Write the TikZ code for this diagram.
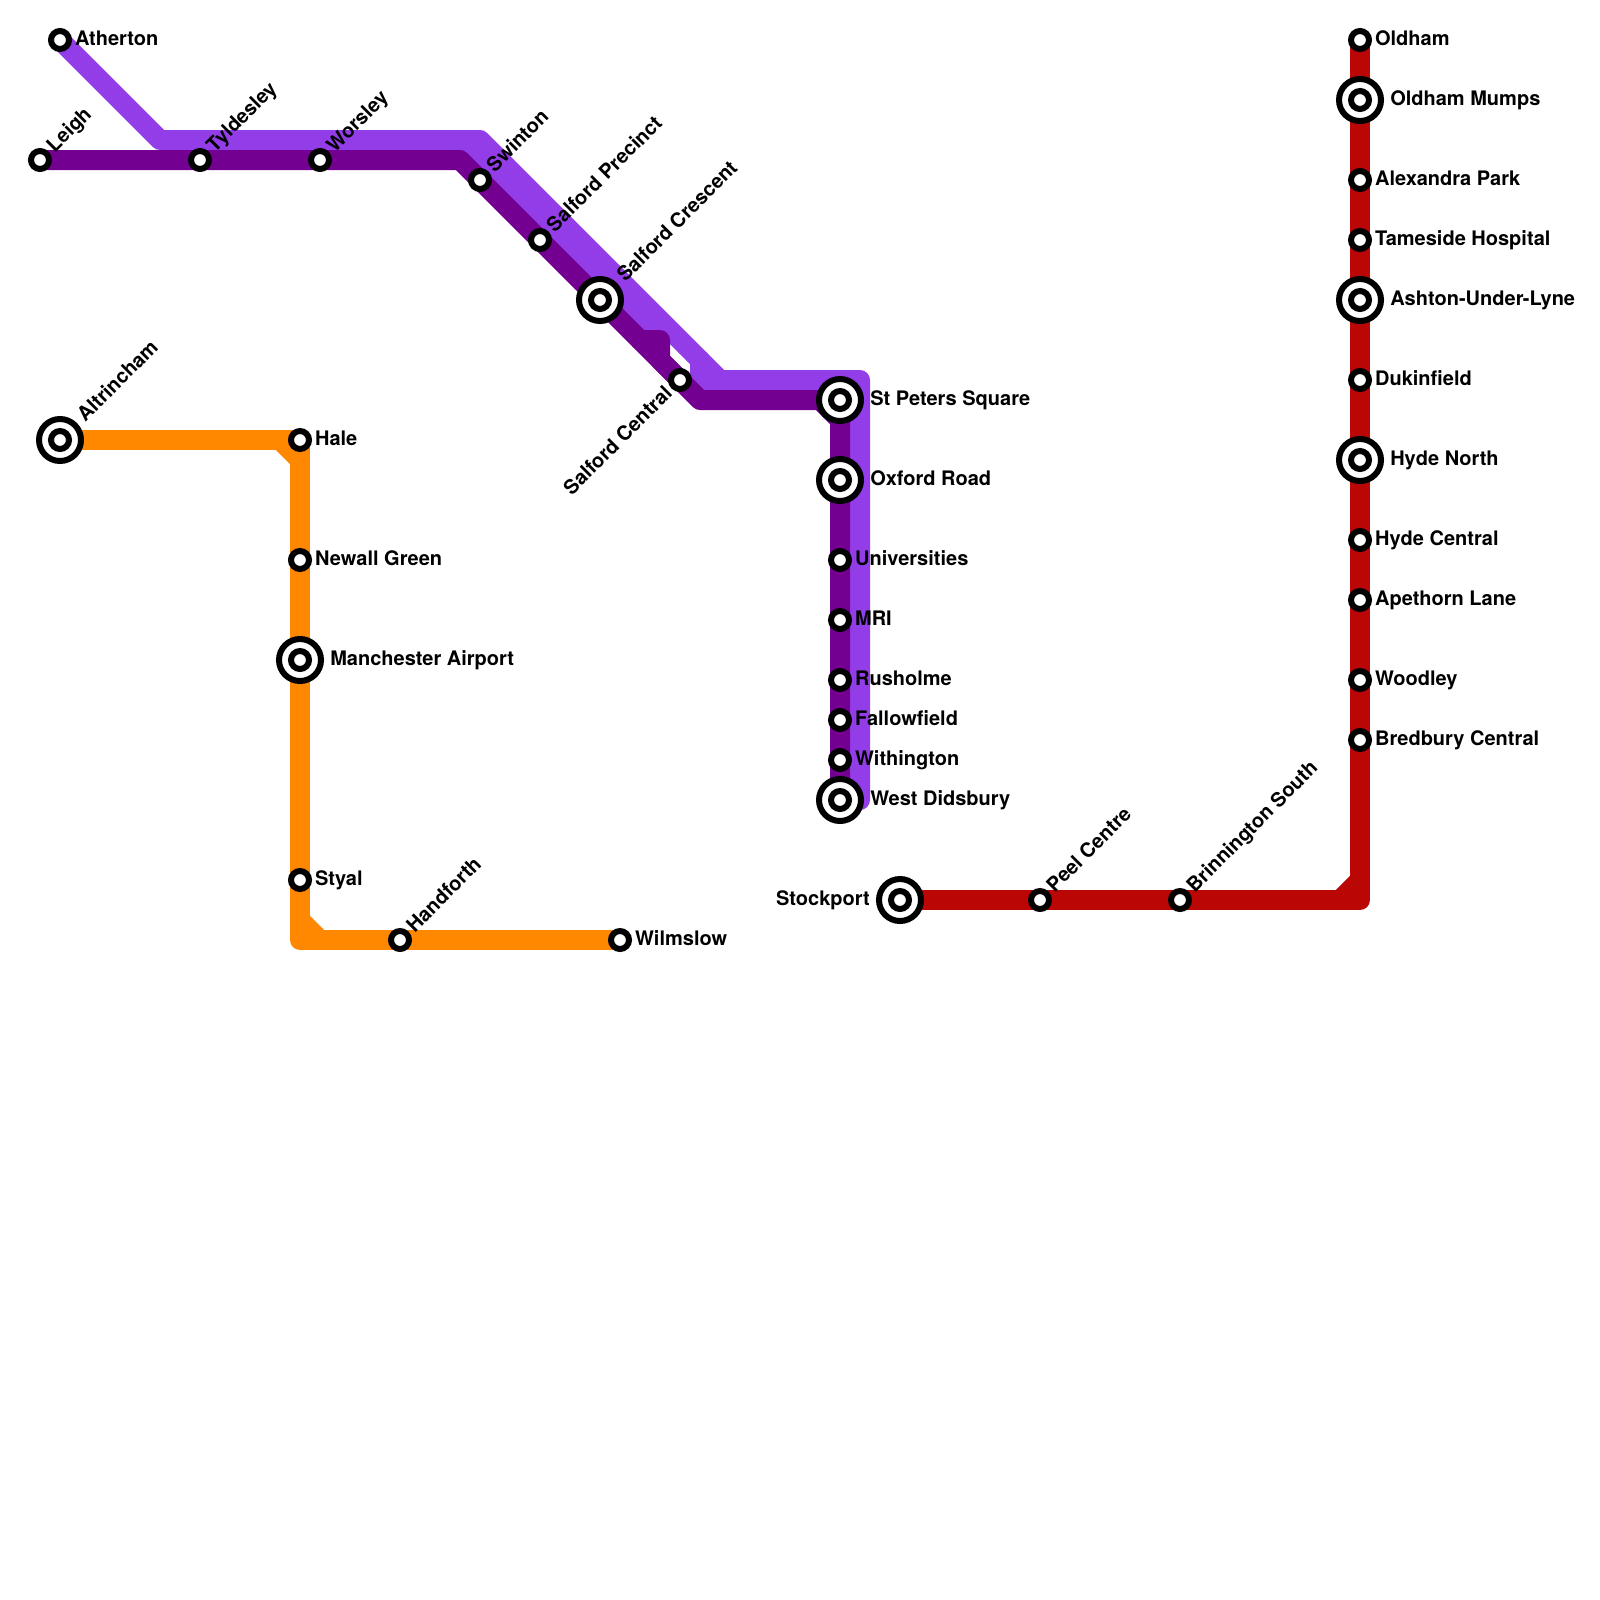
\documentclass[tikz,border=0pt]{standalone}
\usepackage{fontspec}
\setmainfont{TeX Gyre Heros}
\usetikzlibrary{backgrounds,positioning}
\definecolor{lightpurple}{HTML}{933DE8}
\definecolor{darkpurple}{HTML}{730091}
\definecolor{lineorange}{HTML}{FF8800}
\definecolor{linered}{HTML}{BB0606}
\tikzset{
    every node/.style={font=\fontsize{14.23}{16}\selectfont\bfseries,inner sep=0pt},
    metro/.style={line width=0.5cm,line join=round,line cap=round},
    stn/.style={circle,draw=black,fill=white,line width=0.15cm,minimum size=0.45cm},
    hub/.style={circle,draw=black,fill=white,line width=0.15cm,minimum size=1.05cm},
    namer/.style={anchor=mid west,xshift=0.37cm,yshift=-0.05cm},
    nameR/.style={anchor=mid west,xshift=0.75cm,yshift=-0.05cm},
    nameL/.style={anchor=mid east,xshift=-0.75cm,yshift=-0.05cm},
    namea/.style={anchor=mid west,rotate=45,xshift=0.375cm,yshift=-0.05cm},
    nameA/.style={anchor=mid west,rotate=45,xshift=0.75cm,yshift=-0.05cm},
    nameb/.style={anchor=mid east,rotate=45,xshift=-0.375cm,yshift=-0.05cm},
}

\begin{document}
\begin{tikzpicture}[x=0.5cm,y=-0.5cm]
    \useasboundingbox (0,0) rectangle (80,80);

    % stations, purple lines
    \node[stn] (atherton) at (3,2) {};
    \node[stn] (leigh) at (2,8) {};
    \node[stn] (tyldesley) at (10,8) {};
    \node[stn] (worsley) at (16,8) {};
    \node[stn] (swinton) at (24,9) {};
    \node[stn] (precinct) at (27,12) {};
    \node[hub] (crescent) at (30,15) {}; \node[stn] (crescent-in) at (crescent) {};
    \node[stn] (central) at (34,19) {};
    \node[hub] (stpeters) at (42,20) {}; \node[stn] (stpeters-in) at (stpeters) {};
    \node[hub] (oxford) at (42,24) {}; \node[stn] (oxford-in) at (oxford) {};
    \node[stn] (universities) at (42,28) {};
    \node[stn] (mri) at (42,31) {};
    \node[stn] (rusholme) at (42,34) {};
    \node[stn] (fallowfield) at (42,36) {};
    \node[stn] (withington) at (42,38) {};
    \node[hub] (didsbury) at (42,40) {}; \node[stn] (didsbury-in) at (didsbury) {};

    % stations, orange line
    \node[hub] (altrincham) at (3,22) {}; \node[stn] (altrincham-in) at (altrincham) {};
    \node[stn] (hale) at (15,22) {};
    \node[stn] (newall) at (15,28) {};
    \node[hub] (airport) at (15,33) {}; \node[stn] (airport-in) at (airport) {};
    \node[stn] (styal) at (15,44) {};
    \node[stn] (handforth) at (20,47) {};
    \node[stn] (wilmslow) at (31,47) {};

    % stations, red line
    \node[hub] (stockport) at (45,45) {}; \node[stn] (stockport-in) at (stockport) {};
    \node[stn] (peel) at (52,45) {};
    \node[stn] (brinnington) at (59,45) {};
    \node[stn] (bredbury) at (68,37) {};
    \node[stn] (woodley) at (68,34) {};
    \node[stn] (apethorn) at (68,30) {};
    \node[stn] (hydec) at (68,27) {};
    \node[hub] (hyden) at (68,23) {}; \node[stn] (hyden-in) at (hyden) {};
    \node[stn] (dukinfield) at (68,19) {};
    \node[hub] (ashton) at (68,15) {}; \node[stn] (ashton-in) at (ashton) {};
    \node[stn] (tameside) at (68,12) {};
    \node[stn] (alexandra) at (68,9) {};
    \node[hub] (mumps) at (68,5) {}; \node[stn] (mumps-in) at (mumps) {};
    \node[stn] (oldham) at (68,2) {};

    % bends
    \coordinate (p1) at (8,7);
    \coordinate (p2) at (24,7);
    \coordinate (p3) at (36,19);
    \coordinate (p4) at (43,19);
    \coordinate (p5) at (43,40);
    \coordinate (p6) at (23,7);
    \coordinate (p7) at (32.5,16.5);
    \coordinate (p8) at (35,18);
    \coordinate (p9) at (35,19);
    \coordinate (d1) at (23,8);
    \coordinate (d2) at (35,20);
    \coordinate (d3) at (41,20);
    \coordinate (d4) at (42,21);
    \coordinate (d5) at (32,17);
    \coordinate (d6) at (33,17);
    \coordinate (d7) at (33,18);
    \coordinate (o1) at (15,47);
    \coordinate (o2) at (14,22);
    \coordinate (o3) at (15,23);
    \coordinate (o4) at (15,46);
    \coordinate (o5) at (16,47);
    \coordinate (r1) at (68,45);
    \coordinate (r2) at (67,45);
    \coordinate (r3) at (68,44);

    % lines
    \begin{scope}[on background layer]
        \draw[metro,lightpurple] (atherton.center) -- (p1) -- (p2) -- (p3) -- (p4) -- (p5);
        \draw[metro,lightpurple] (p6) -- (p7);
        \draw[metro,lightpurple] (p8) -- (p9) -- (p3);
        \draw[metro,darkpurple] (leigh.center) -- (d1) -- (d2) -- (d3) -- (d4) -- (didsbury.center);
        \draw[metro,darkpurple] (d5) -- (d6) -- (d7) -- (central.center);
        \draw[metro,lineorange] (altrincham.center) -- (hale.center) -- (o1) -- (wilmslow.center);
        \draw[metro,lineorange] (o2) -- (o3);
        \draw[metro,lineorange] (o4) -- (o5);
        \draw[metro,linered] (stockport.center) -- (r1) -- (oldham.center);
        \draw[metro,linered] (r2) -- (r3);
    \end{scope}

    % names, purple lines
    \node[namer] (atherton-t) at (atherton) {Atherton};
    \node[namea] (leigh-t) at (leigh) {Leigh};
    \node[namea] (tyldesley-t) at (tyldesley) {Tyldesley};
    \node[namea] (worsley-t) at (worsley) {Worsley};
    \node[namea] (swinton-t) at (swinton) {Swinton};
    \node[namea] (precinct-t) at (precinct) {Salford Precinct};
    \node[nameA] (crescent-t) at (crescent) {Salford Crescent};
    \node[nameb] (central-t) at (central) {Salford Central};
    \node[nameR] (stpeters-t) at (stpeters) {St Peters Square};
    \node[nameR] (oxford-t) at (oxford) {Oxford Road};
    \node[namer] (universities-t) at (universities) {Universities};
    \node[namer] (mri-t) at (mri) {MRI};
    \node[namer] (rusholme-t) at (rusholme) {Rusholme};
    \node[namer] (fallowfield-t) at (fallowfield) {Fallowfield};
    \node[namer] (withington-t) at (withington) {Withington};
    \node[nameR] (didsbury-t) at (didsbury) {West Didsbury};

    % names, orange line
    \node[nameA] (altrincham-t) at (altrincham) {Altrincham};
    \node[namer] (hale-t) at (hale) {Hale};
    \node[namer] (newall-t) at (newall) {Newall Green};
    \node[nameR] (airport-t) at (airport) {Manchester Airport};
    \node[namer] (styal-t) at (styal) {Styal};
    \node[namea] (handforth-t) at (handforth) {Handforth};
    \node[namer] (wilmslow-t) at (wilmslow) {Wilmslow};

    % names, red line
    \node[nameL] (stockport-t) at (stockport) {Stockport};
    \node[namea] (peel-t) at (peel) {Peel Centre};
    \node[namea] (brinnington-t) at (brinnington) {Brinnington South};
    \node[namer] (bredbury-t) at (bredbury) {Bredbury Central};
    \node[namer] (woodley-t) at (woodley) {Woodley};
    \node[namer] (apethorn-t) at (apethorn) {Apethorn Lane};
    \node[namer] (hydec-t) at (hydec) {Hyde Central};
    \node[nameR] (hyden-t) at (hyden) {Hyde North};
    \node[namer] (dukinfield-t) at (dukinfield) {Dukinfield};
    \node[nameR] (ashton-t) at (ashton) {Ashton-Under-Lyne};
    \node[namer] (tameside-t) at (tameside) {Tameside Hospital};
    \node[namer] (alexandra-t) at (alexandra) {Alexandra Park};
    \node[nameR] (mumps-t) at (mumps) {Oldham Mumps};
    \node[namer] (oldham-t) at (oldham) {Oldham};
\end{tikzpicture}
\end{document}
